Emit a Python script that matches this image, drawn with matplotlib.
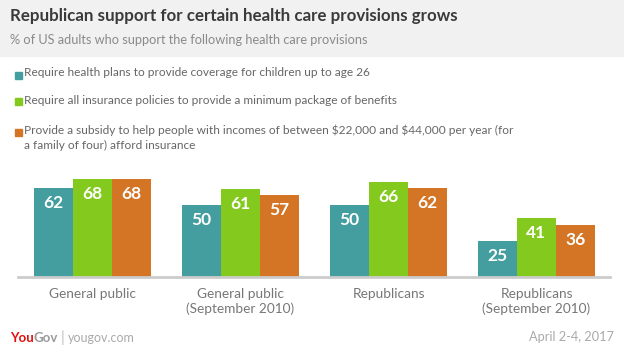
import matplotlib; matplotlib.use('Agg')
import matplotlib.pyplot as plt
from matplotlib.patches import Rectangle
import numpy as np

plt.rcParams['font.family'] = ['Lato', 'DejaVu Sans']

# --- data
GROUPS = ['General public', 'General public\n(September 2010)',
          'Republicans', 'Republicans\n(September 2010)']
SERIES = ['Require health plans to provide coverage for children up to age 26',
          'Require all insurance policies to provide a minimum package of benefits',
          'Provide a subsidy to help people with incomes of between \\$22,000 and \\$44,000 per year (for\na family of four) afford insurance']
CHILDREN = [62, 50, 50, 25]
MINIMUM = [68, 61, 66, 41]
SUBSIDY = [68, 57, 62, 36]
COLORS = ['#449d9e', '#84c91e', '#d47525']

W, H = 624, 358
fig = plt.figure(figsize=(W / 100, H / 100), dpi=100)
fig.patch.set_facecolor('white')

def px(x, y):
    return x / W, 1 - y / H

# header band
fig.patches.append(Rectangle((0, 1 - 56 / H), 1, 56 / H, transform=fig.transFigure,
                             color='#f1f1f1', zorder=0))
fig.text(*px(10, 16), 'Republican support for certain health care provisions grows',
         fontsize=12.2, fontweight='bold', color='#3a3a3a', va='center')
fig.text(*px(10, 40), '% of US adults who support the following health care provisions',
         fontsize=9.2, color='#8a8a8a', va='center')

# legend
leg_y = [75, 102, 132]
for c, lab, y in zip(COLORS, SERIES, leg_y):
    fig.patches.append(Rectangle(px(15, y + 3.5), 7 / W, 7 / H, transform=fig.transFigure,
                                 color=c))
    fig.text(24 / W, 1 - (y - 7.5) / H, lab, fontsize=8.6, color='#666666', va='top',
             linespacing=1.45)

# bars
base, top = 277, 160
left, right = 18, 610
ax = fig.add_axes([left / W, 1 - base / H, (right - left) / W, (base - top) / H])
bw = 39 / 148
x = np.arange(len(GROUPS))
for i, (vals, c) in enumerate(zip([CHILDREN, MINIMUM, SUBSIDY], COLORS)):
    xs = x + (i - 1) * bw
    ax.bar(xs, vals, width=bw, color=c, zorder=2)
    for xx, v in zip(xs, vals):
        ax.text(xx, v - 10.5, str(v), ha='center', va='center', color='white',
                fontsize=12.5, fontweight='bold', zorder=3)
ax.set_xlim((left - 92.5) / 148, (right - 92.5) / 148)
ax.set_ylim(0, (base - top) / 1.44)
for s in ['top', 'right', 'left']:
    ax.spines[s].set_visible(False)
ax.spines['bottom'].set_color('#cccccc')
ax.spines['bottom'].set_linewidth(2)
ax.set_yticks([])
ax.set_xticks(x)
ax.set_xticklabels(GROUPS, fontsize=9.8, color='#777777', linespacing=1.25)
ax.tick_params(axis='x', length=0, pad=8)

# footer: logo pieces chained one after another
t1 = fig.text(*px(10, 338), 'You', fontsize=9.5, fontweight='bold', color='#e0120f', va='center')
t2 = fig.add_artist(plt.Annotation('Gov', xy=(1, 0.5), xycoords=t1, va='center',
                                   fontsize=9.5, fontweight='bold', color='#9a9a9a'))
t3 = fig.add_artist(plt.Annotation('|', xy=(1, 0.5), xycoords=t2, xytext=(2, 0),
                                   textcoords='offset points', va='center', fontsize=11,
                                   color='#bbbbbb'))
fig.add_artist(plt.Annotation('yougov.com', xy=(1, 0.5), xycoords=t3, xytext=(2, 0),
                              textcoords='offset points', va='center', fontsize=9,
                              color='#aaaaaa'))
fig.text(*px(614, 337), 'April 2-4, 2017', fontsize=9.2, color='#aaaaaa', va='center', ha='right')

fig.savefig('out.png', dpi=100)
